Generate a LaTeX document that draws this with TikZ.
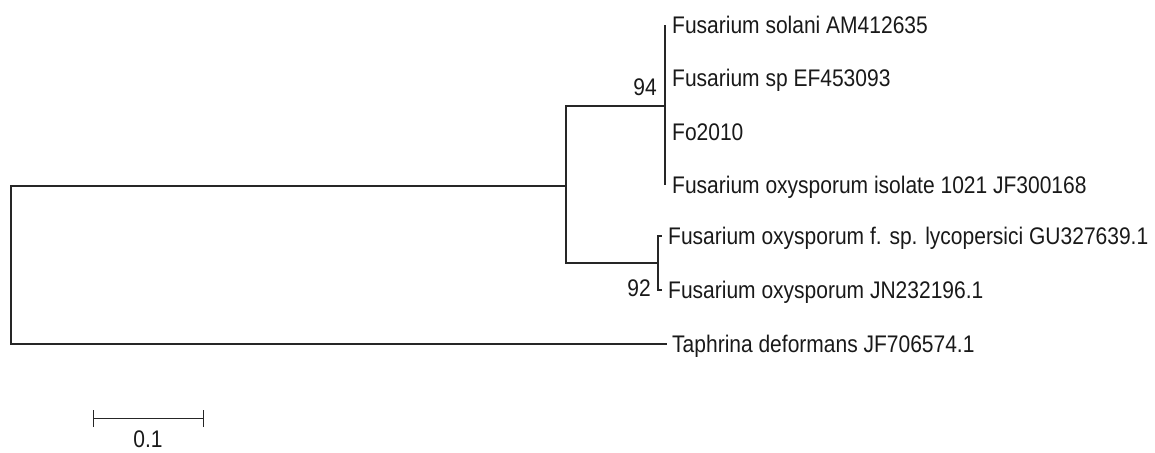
\documentclass[tikz,border=0pt]{standalone}
\usepackage{fontspec}
\setmainfont{Liberation Sans}[FakeStretch=0.875]
\begin{document}
\begin{tikzpicture}[x=1pt,y=-1pt,
  branch/.style={draw=black!85,line width=2pt},
  taxon/.style={anchor=base west,inner sep=0pt,text=black!90,font=\fontsize{24}{28}\selectfont},
  support/.style={anchor=base east,inner sep=0pt,text=black!90,font=\fontsize{24}{28}\selectfont},
  scalelbl/.style={anchor=base,inner sep=0pt,text=black!90,font=\fontsize{24}{28}\selectfont}]
\useasboundingbox (0,0) rectangle (1155,452);

% internal nodes
\coordinate (root) at (11,265);
\coordinate (nA) at (566,185.5);
\coordinate (nB) at (665,105.5);
\coordinate (nC) at (658,263);

% tips
\coordinate (t1) at (665,25);
\coordinate (t2) at (665,78.3);
\coordinate (t3) at (665,131.7);
\coordinate (t4) at (665,185);
\coordinate (t5) at (662,236);
\coordinate (t6) at (662,290);
\coordinate (t7) at (667,344);

% branches
\draw[branch] (root) |- (nA);
\draw[branch] (root) |- (t7);
\draw[branch] (nA) |- (nB);
\draw[branch] (nA) |- (nC);
\draw[branch] (nB) |- (t1);
\draw[branch] (nB) |- (t4);
\draw[branch] (nC) |- (t5);
\draw[branch] (nC) |- (t6);

% taxon labels
\node[taxon] (l1) at (672,33.6) {Fusarium solani AM412635};
\node[taxon] (l2) at (672,86.9) {Fusarium sp EF453093};
\node[taxon] (l3) at (672,140.3) {Fo2010};
\node[taxon] (l4) at (672,193.6) {Fusarium oxysporum isolate 1021 JF300168};
\node[taxon] (l5) at (668,244.6) {Fusarium oxysporum f. sp. lycopersici GU327639.1};
\node[taxon] (l6) at (668,298.6) {Fusarium oxysporum JN232196.1};
\node[taxon] (l7) at (672,352.6) {Taphrina deformans JF706574.1};

% bootstrap values
\node[support] (b1) at (657,95.5) {94};
\node[support] (b2) at (651,296.5) {92};

% scale bar
\coordinate (sL) at (93.5,418.5);
\coordinate (sR) at (203.5,418.5);
\draw[branch,line width=1.8pt] (sL) -- (sR);
\draw[branch,line width=1.8pt] ([yshift=-8.5]sL) -- ([yshift=9]sL);
\draw[branch,line width=1.8pt] ([yshift=-8.5]sR) -- ([yshift=9]sR);
\node[scalelbl] (sc) at (148,447.5) {0.1};
\end{tikzpicture}
\end{document}
